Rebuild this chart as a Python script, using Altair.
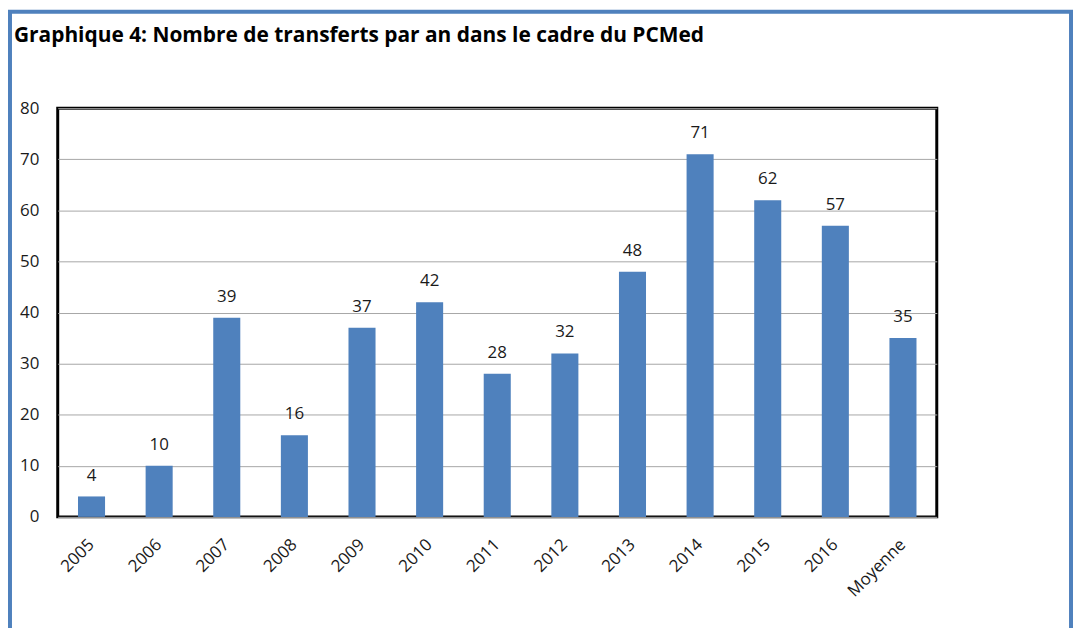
import altair as alt
import pandas as pd

categories = ["2005", "2006", "2007", "2008", "2009", "2010", "2011", "2012",
              "2013", "2014", "2015", "2016", "Moyenne"]
values = [4, 10, 39, 16, 37, 42, 28, 32, 48, 71, 62, 57, 35]
y_ticks = [0, 10, 20, 30, 40, 50, 60, 70, 80]
title_text = "Graphique 4: Nombre de transferts par an dans le cadre du PCMed"

df = pd.DataFrame({"cat": categories, "val": values})

FONT = "Open Sans"
TXT = "#1a1a1a"
BLUE = "#4F81BD"

x_enc = alt.X("cat:N", sort=categories,
              scale=alt.Scale(paddingInner=0.6, paddingOuter=0.3),
              axis=alt.Axis(title=None, labelAngle=-45, labelAlign="right",
                            labelBaseline="middle", labelPadding=25,
                            labelFont=FONT, labelFontSize=17, labelColor=TXT,
                            domain=False, ticks=False, grid=False))
y_enc = alt.Y("val:Q", scale=alt.Scale(domain=[0, 80], nice=False),
              axis=alt.Axis(title=None, values=y_ticks, labelPadding=19,
                            labelFont=FONT, labelFontSize=17, labelColor=TXT,
                            domain=False, ticks=False, grid=True,
                            gridColor="#A6A6A6", gridWidth=1))

base = alt.Chart(df)
bars = base.mark_bar(color=BLUE).encode(x=x_enc, y=y_enc)
labels = base.mark_text(baseline="bottom", dy=-12, font=FONT, fontSize=17,
                        color=TXT).encode(
    x=alt.X("cat:N", sort=categories), y="val:Q", text="val:Q")

single = alt.Data(values=[{"t": title_text}])
frame = alt.Chart(single).mark_rect(
    filled=False, stroke=BLUE, strokeWidth=4).encode(
    x=alt.value(-48), x2=alt.value(1019), y=alt.value(-97), y2=alt.value(620))
title = alt.Chart(single).mark_text(
    align="left", baseline="alphabetic", font="Open Sans", fontSize=21,
    fontWeight="bold", color="#000000").encode(
    x=alt.value(-44), y=alt.value(-67), text="t:N")

chart = alt.layer(bars, labels, frame, title).properties(
    width=884, height=411,
    autosize=alt.AutoSizeParams(type="none"),
    padding={"left": 50, "top": 99, "right": 138, "bottom": 110},
    background="white",
).configure_view(stroke="#000000", strokeWidth=3)

chart.save("out.html", embed_options={"renderer": "svg", "actions": False})
